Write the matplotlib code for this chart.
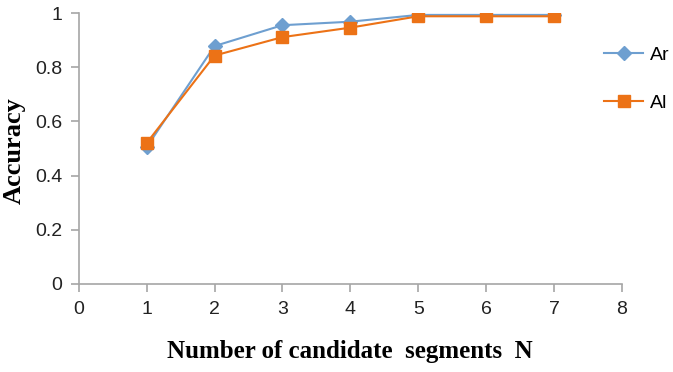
import numpy as np
import matplotlib
matplotlib.use("Agg")
import matplotlib.pyplot as plt

n_segments = [1, 2, 3, 4, 5, 6, 7]
acc_ar = [0.505, 0.878, 0.955, 0.968, 0.993, 0.993, 0.993]
acc_al = [0.52, 0.843, 0.911, 0.946, 0.988, 0.988, 0.988]

blue = '#6e9fd0'
orange = '#ec7216'
grey = '#a6a6a6'
tick_font = ['Liberation Sans', 'DejaVu Sans']

fig = plt.figure(figsize=(6.73, 3.72), dpi=100)
ax = fig.add_axes([0.117, 0.2366, 0.807, 0.7284])

ax.plot(n_segments, acc_ar, color=blue, lw=1.5, marker='D', ms=7, label='Ar', zorder=3)
ax.plot(n_segments, acc_al, color=orange, lw=1.5, marker='s', ms=8, label='Al', zorder=4)

ax.set_xlim(0, 8)
ax.set_ylim(0, 1)
ax.set_xticks(range(0, 9))
ax.set_yticks([0, 0.2, 0.4, 0.6, 0.8, 1])
ax.set_yticklabels(['0', '0.2', '0.4', '0.6', '0.8', '1'])

for s in ['top', 'right']:
    ax.spines[s].set_visible(False)
for s in ['left', 'bottom']:
    ax.spines[s].set_color(grey)
    ax.spines[s].set_linewidth(1.2)
ax.tick_params(color=grey, length=6, width=1.2, labelsize=14, pad=6)
for lab in ax.get_xticklabels() + ax.get_yticklabels():
    lab.set_family(tick_font)
    lab.set_color('#222222')

ax.set_xlabel('Number of candidate  segments  N', family='Liberation Serif',
              fontweight='bold', fontsize=18)
ax.xaxis.set_label_coords(0.5, -0.205)
ax.set_ylabel('Accuracy', family='Liberation Serif', fontweight='bold', fontsize=19)
ax.yaxis.set_label_coords(-0.098, 0.494)

leg = fig.legend(loc='upper left', bbox_to_anchor=(0.898, 0.875), frameon=False,
                 handlelength=2.0, handletextpad=0.35, labelspacing=1.55,
                 borderaxespad=0, borderpad=0,
                 prop={'family': tick_font, 'size': 14})

fig.savefig('out.png', dpi=100)
